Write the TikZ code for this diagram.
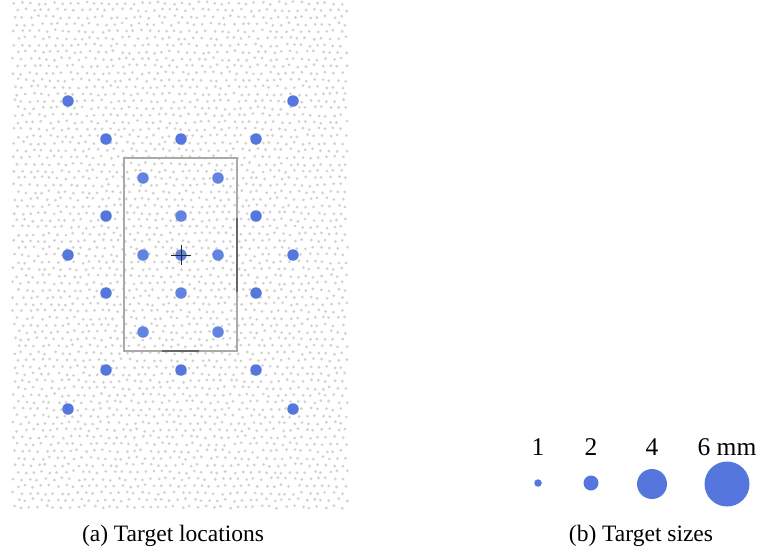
\documentclass[tikz,border=0pt]{standalone}
\usepackage{fontspec}
\setmainfont{Liberation Serif}
\definecolor{tgt}{HTML}{5577DD}
\definecolor{tgtin}{HTML}{6283E0}
\definecolor{bgdot}{HTML}{D2D2D2}
\definecolor{frame}{HTML}{AAAAAA}
\begin{document}
\begin{tikzpicture}[x=1pt,y=-1pt,
  target/.style={circle,fill=tgt,inner sep=0pt,minimum size=11.5pt},
  targetin/.style={circle,fill=tgtin,inner sep=0pt,minimum size=11.5pt},
  sizedot/.style={circle,fill=tgt,inner sep=0pt},
  lbl/.style={font=\fontsize{25.5}{28}\selectfont,inner sep=0pt,anchor=base},
  captext/.style={font=\fontsize{23.5}{26}\selectfont,inner sep=0pt,anchor=base}]
\useasboundingbox (0,0) rectangle (759,550);
% textured background
\pgfmathsetseed{7}
\foreach \r in {0,...,72}{
  \foreach \c in {0,...,41}{
    \pgfmathsetmacro{\xx}{14+\c*8+mod(\r,2)*4+rand*1.6}
    \pgfmathsetmacro{\yy}{3+\r*7+rand*1.4}
    \fill[bgdot] (\xx,\yy) circle[radius=1.55];
  }
}
% frame
\draw[frame,line width=1.2pt] (124,158) rectangle (237,351);
\coordinate (r1) at (237,218); \coordinate (r2) at (237,292);
\coordinate (b1) at (162,351); \coordinate (b2) at (199,351);
\draw[black!60,line width=1.2pt] (r1) -- (r2);
\draw[black!60,line width=1.2pt] (b1) -- (b2);
% outer targets
\foreach \n/\x/\y in {o1/68/101,o2/293/101,o3/106/139,o4/181/139,o5/256/139,
  o6/106/216,o7/256/216,o8/68/255,o9/293/255,o10/106/293,o11/256/293,
  o12/106/370,o13/181/370,o14/256/370,o15/68/409,o16/293/409}
  \node[target] (\n) at (\x,\y) {};
% inner targets
\foreach \n/\x/\y in {i1/143/178,i2/218/178,i3/181/216,i4/143/255,i5/218/255,
  i6/181/293,i7/143/332,i8/218/332}
  \node[targetin] (\n) at (\x,\y) {};
\node[targetin] (c) at (181,255) {};
\draw[black!85,line width=1pt] ([xshift=-10pt]c.center) -- ([xshift=10pt]c.center);
\draw[black!85,line width=1pt] ([yshift=-10pt]c.center) -- ([yshift=10pt]c.center);
% sizes
\node[sizedot,minimum size=7.5pt] (s1) at (538,483) {};
\node[sizedot,minimum size=15pt] (s2) at (591,483) {};
\node[sizedot,minimum size=30pt] (s4) at (652,484) {};
\node[sizedot,minimum size=45pt] (s6) at (727,484) {};
\node[lbl] (l1) at (538,455) {1};
\node[lbl] (l2) at (591,455) {2};
\node[lbl] (l4) at (652,455) {4};
\node[lbl] (l6) at (727,455) {6 mm};
% captions
\node[captext] (ca) at (173,541) {(a) Target locations};
\node[captext] (cb) at (641,541) {(b) Target sizes};
\end{tikzpicture}
\end{document}
